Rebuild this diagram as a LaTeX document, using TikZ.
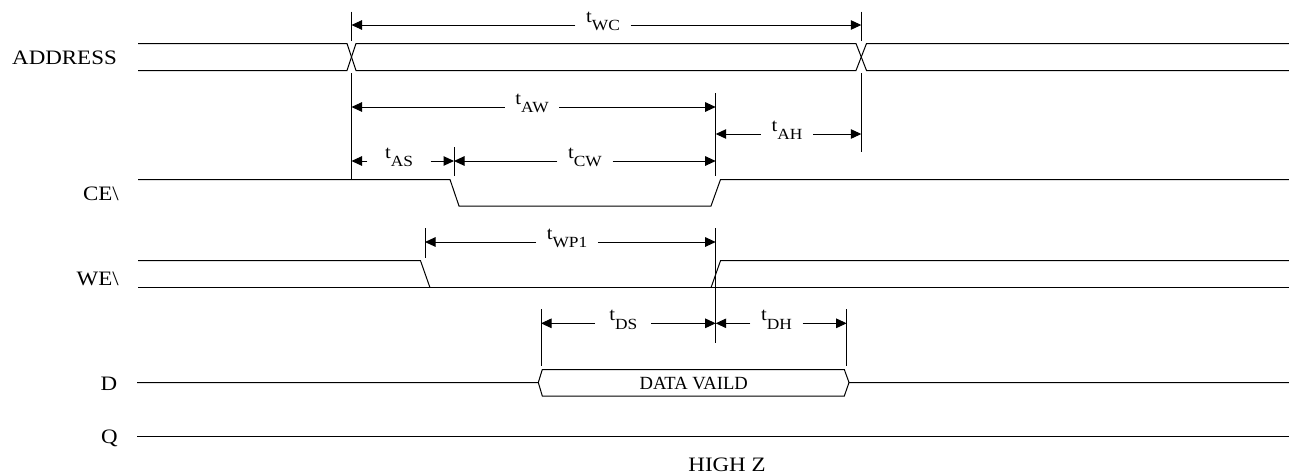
\documentclass[tikz,border=0pt]{standalone}
\usepackage{fontspec}
\setmainfont{Liberation Serif}[FakeStretch=1.12]
\newfontfamily\datafont{Liberation Serif}
\usetikzlibrary{arrows.meta}
\newcommand\tlab[1]{t\raisebox{-8.5pt}{\fontsize{15.5}{15.5}\selectfont #1}}
\begin{document}
\begin{tikzpicture}[x=1pt,y=-1pt,
  sig/.style={line width=1pt, black},
  markline/.style={line width=1pt, black},
  dimline/.style={line width=1pt, -{Triangle[length=10.5pt,width=9.5pt]}},
  tlabel/.style={anchor=base, inner xsep=10.5pt, inner ysep=0pt, font=\fontsize{18.5}{18.5}\selectfont},
  sname/.style={anchor=base east, inner sep=0pt, font=\fontsize{20.5}{20.5}\selectfont},
]
\useasboundingbox (0,0) rectangle (1289,474);

% ---- signals ----
% ADDRESS
\draw[sig] (138,43.5) -- (347,43.5) -- (356,70.5) -- (856,70.5) -- (866.5,43.5) -- (1289,43.5);
\draw[sig] (138,70.5) -- (347,70.5) -- (356,43.5) -- (856,43.5) -- (866.5,70.5) -- (1289,70.5);
% CE
\draw[sig] (138,179.5) -- (450,179.5) -- (459,206) -- (711,206) -- (720.5,179.5) -- (1289,179.5);
% WE
\draw[sig] (138,260.7) -- (420.5,260.7) -- (430,287.7);
\draw[sig] (138,287.7) -- (1289,287.7);
\draw[sig] (711,287.7) -- (720.5,260.7) -- (1289,260.7);
% D
\draw[sig] (137,382.5) -- (538.3,382.5) -- (542.3,369.5) -- (844.3,369.5) -- (849,382.5) -- (1289,382.5);
\draw[sig] (538.3,382.5) -- (542.3,396) -- (844.3,396) -- (849,382.5);
% Q
\draw[sig] (137,436.7) -- (1289,436.7);

% ---- names ----
\node[sname] (nA) at (117,64.3) {ADDRESS};
\node[sname] (nCE) at (119,200.5) {CE\textbackslash};
\node[sname] (nWE) at (119,285) {WE\textbackslash};
\node[sname] (nD) at (117.5,390) {D};
\node[sname] (nQ) at (118,443) {Q};
\node[anchor=base, inner sep=0pt, font=\fontsize{20.5}{20.5}\selectfont] (hz) at (727,471.7) {HIGH Z};
\node[anchor=base, inner sep=0pt, font=\datafont\fontsize{18.6}{18.6}\selectfont] (dv) at (693.7,389.3) {DATA VAILD};

% ---- marker lines ----
\draw[markline] (351.5,11.7) -- (351.5,40.5);
\draw[markline] (351.5,73.3) -- (351.5,179.5);
\draw[markline] (861.3,11.7) -- (861.3,40.5);
\draw[markline] (861.3,73.3) -- (861.3,152.3);
\draw[markline] (715.7,93) -- (715.7,176);
\draw[markline] (715.7,228) -- (715.7,343);
\draw[markline] (454,147) -- (454,176);
\draw[markline] (425,228) -- (425,258);
\draw[markline] (541,309) -- (541,366);
\draw[markline] (846.7,309) -- (846.7,366);

% ---- dimensions ----
\coordinate (wcL) at (351.5,25);   \coordinate (wcR) at (861.3,25);
\coordinate (awL) at (351.5,107);  \coordinate (awR) at (715.7,107);
\coordinate (ahL) at (715.7,134);  \coordinate (ahR) at (861.3,134);
\coordinate (asL) at (351.5,161);  \coordinate (asR) at (454,161);
\coordinate (cwL) at (454,161);    \coordinate (cwR) at (715.7,161);
\coordinate (wpL) at (425,242);    \coordinate (wpR) at (715.7,242);
\coordinate (dsL) at (541,323.3);  \coordinate (dsR) at (715.7,323.3);
\coordinate (dhL) at (715.7,323.3); \coordinate (dhR) at (846.7,323.3);

\node[tlabel] (twc) at (603,22.3) {\tlab{WC}};
\node[tlabel] (taw) at (532,104.3) {\tlab{AW}};
\node[tlabel] (tah) at (787,131.3) {\tlab{AH}};
\node[tlabel, inner xsep=17.5pt] (tas) at (399,158.3) {\tlab{AS}};
\node[tlabel] (tcw) at (585,158.3) {\tlab{CW}};
\node[tlabel] (twp) at (567,239.3) {\tlab{WP1}};
\node[tlabel, inner xsep=14pt] (tds) at (623.3,320.6) {\tlab{DS}};
\node[tlabel] (tdh) at (776.5,320.6) {\tlab{DH}};

\draw[dimline] (twc.west |- wcL) -- (wcL);
\draw[dimline] (twc.east |- wcR) -- (wcR);
\draw[dimline] (taw.west |- awL) -- (awL);
\draw[dimline] (taw.east |- awR) -- (awR);
\draw[dimline] (tah.west |- ahL) -- (ahL);
\draw[dimline] (tah.east |- ahR) -- (ahR);
\draw[dimline] (tas.west |- asL) -- (asL);
\draw[dimline] (tas.east |- asR) -- (asR);
\draw[dimline] (tcw.west |- cwL) -- (cwL);
\draw[dimline] (tcw.east |- cwR) -- (cwR);
\draw[dimline] (twp.west |- wpL) -- (wpL);
\draw[dimline] (twp.east |- wpR) -- (wpR);
\draw[dimline] (tds.west |- dsL) -- (dsL);
\draw[dimline] (tds.east |- dsR) -- (dsR);
\draw[dimline] (tdh.west |- dhL) -- (dhL);
\draw[dimline] (tdh.east |- dhR) -- (dhR);
\end{tikzpicture}
\end{document}
